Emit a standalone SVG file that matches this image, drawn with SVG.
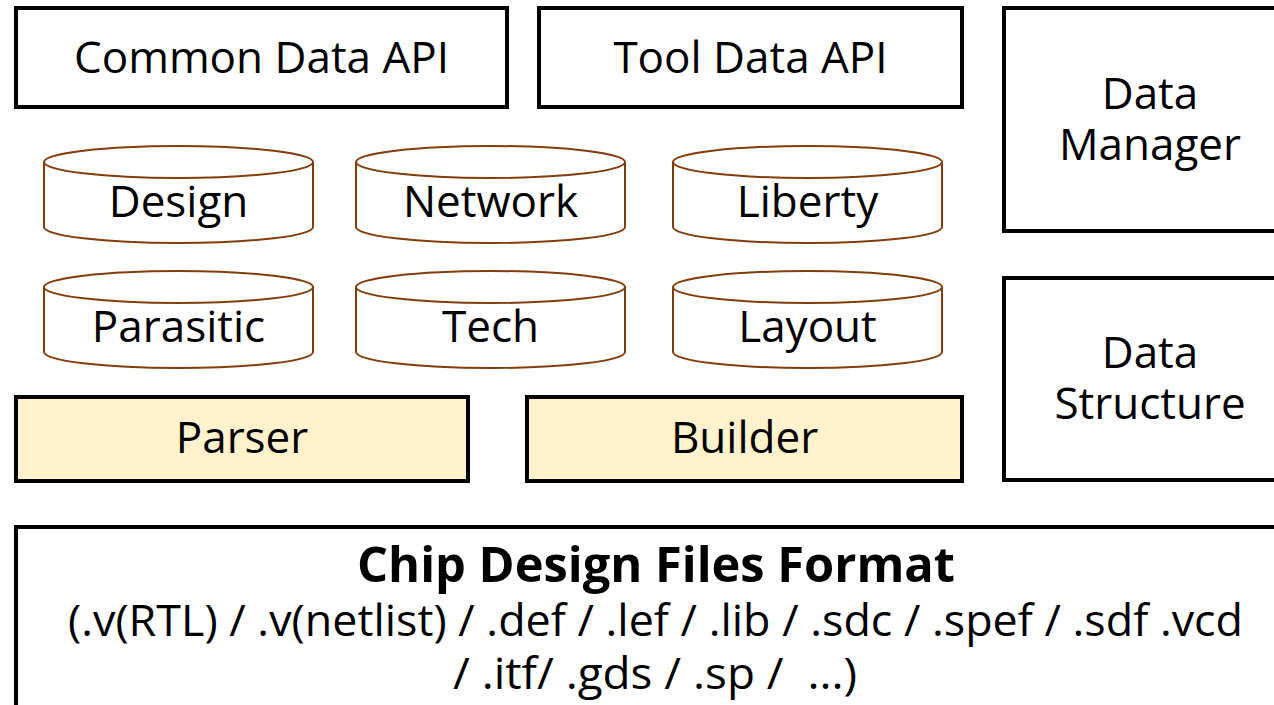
<svg xmlns="http://www.w3.org/2000/svg" width="1274" height="705" viewBox="0 0 1274 705">
<style>
.box{fill:#fff;stroke:#000;stroke-width:4}
.yel{fill:#FFF2CC;stroke:#000;stroke-width:4}
.cyl{fill:#fff;stroke:#843C0C;stroke-width:2}
.t{font-family:"Open Sans","Noto Sans",sans-serif;font-size:44px;fill:#000;text-anchor:middle}
.b{font-weight:bold;font-size:48px}
</style>
<defs>
<g id="cylShape">
<path class="cyl" d="M0,16 L0,81 A134.5,16 0 0 0 269,81 L269,16"/>
<ellipse class="cyl" cx="134.5" cy="16" rx="134.5" ry="16"/>
</g>
</defs>
<g id="common-api"><rect class="box" x="16" y="8" width="491" height="99"/><text class="t" x="261.5" y="73">Common Data API</text></g>
<g id="tool-api"><rect class="box" x="539" y="8" width="423" height="99"/><text class="t" x="750.5" y="73">Tool Data API</text></g>
<g id="data-manager"><rect class="box" x="1004" y="8" width="290" height="223"/><text class="t" x="1150" y="109">Data</text><text class="t" x="1150" y="160">Manager</text></g>
<g id="design"><use href="#cylShape" x="44" y="146"/><text class="t" x="178.5" y="217">Design</text></g>
<g id="network"><use href="#cylShape" x="356" y="146"/><text class="t" x="490.5" y="217">Network</text></g>
<g id="liberty"><use href="#cylShape" x="673" y="146"/><text class="t" x="807.5" y="217">Liberty</text></g>
<g id="parasitic"><use href="#cylShape" x="44" y="271"/><text class="t" x="178.5" y="342">Parasitic</text></g>
<g id="tech"><use href="#cylShape" x="356" y="271"/><text class="t" x="490.5" y="342">Tech</text></g>
<g id="layout"><use href="#cylShape" x="673" y="271"/><text class="t" x="807.5" y="342">Layout</text></g>
<g id="data-structure"><rect class="box" x="1004" y="278" width="290" height="202"/><text class="t" x="1150" y="368">Data</text><text class="t" x="1150" y="419">Structure</text></g>
<g id="parser"><rect class="yel" x="16" y="397" width="452" height="84"/><text class="t" x="242" y="453">Parser</text></g>
<g id="builder"><rect class="yel" x="527" y="397" width="435" height="84"/><text class="t" x="744.5" y="453">Builder</text></g>
<g id="files"><rect class="box" x="16" y="527" width="1290" height="200"/>
<text class="t b" x="656" y="582" textLength="598" lengthAdjust="spacingAndGlyphs">Chip Design Files Format</text>
<text class="t" x="655.5" y="636" textLength="1175" lengthAdjust="spacingAndGlyphs">(.v(RTL) / .v(netlist) / .def / .lef / .lib / .sdc / .spef / .sdf .vcd</text>
<text class="t" x="655" y="689" xml:space="preserve" textLength="404" lengthAdjust="spacingAndGlyphs">/ .itf/ .gds / .sp /  ...)</text>
</g>
<g id="connectors"></g>
</svg>
